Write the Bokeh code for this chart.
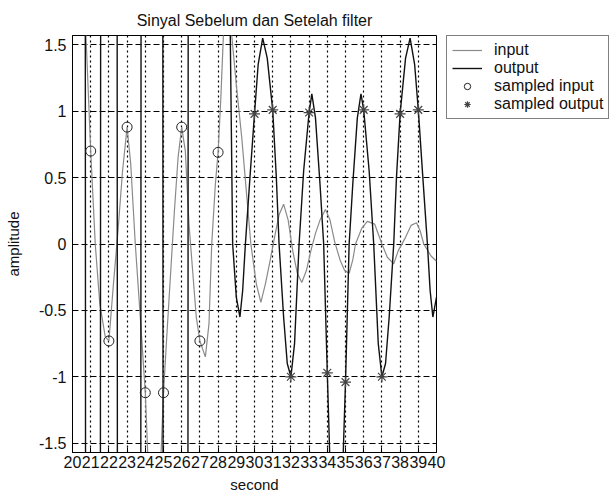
from bokeh.plotting import figure
from bokeh.layouts import row
from bokeh.models import FixedTicker, CustomJSTickFormatter, Legend, LegendItem
from bokeh.embed import file_html
from bokeh.resources import INLINE

# ---- data ----
in_t = [20.0, 20.4, 20.7, 21.0, 21.25, 21.5, 21.8, 22.0, 22.25, 22.5, 22.75, 23.0, 23.2, 23.45, 23.7,
        24.0, 24.2, 24.5, 24.8, 25.0, 25.2, 25.4, 25.6, 25.8, 26.0, 26.2, 26.4, 26.6, 26.8, 27.0,
        27.3, 27.5, 27.65, 27.85, 28.0, 28.15, 28.3, 28.55, 28.75, 29.0, 29.3, 29.55, 29.8, 30.1,
        30.35, 30.6, 30.85, 31.1, 31.35, 31.6, 31.85, 32.1, 32.35, 32.6, 32.85, 33.1, 33.35, 33.6,
        33.9, 34.15, 34.4, 34.7, 34.95, 35.2, 35.4, 35.55, 35.9, 36.2, 36.6, 37.0, 37.3, 37.65,
        37.9, 38.3, 38.6, 38.9, 39.1, 39.3, 39.7, 40.0]
in_v = [2.5, 2.6, 1.7, 0.70, 0.0, -0.45, -0.7, -0.73, -0.3, 0.1, 0.55, 0.88, 0.6, 0.0, -0.5,
        -1.12, -1.8, -2.4, -1.8, -1.12, -0.65, -0.2, 0.25, 0.65, 0.88, 0.7, 0.15, -0.2, -0.55, -0.73,
        -0.85, -0.6, 0.0, 0.45, 0.69, 1.1, 1.6, 2.4, 1.57, 1.2, 0.8, 0.4, 0.0, -0.3,
        -0.44, -0.3, -0.13, 0.05, 0.22, 0.3, 0.18, -0.05, -0.22, -0.29, -0.2, -0.05, 0.08, 0.18,
        0.26, 0.18, 0.02, -0.12, -0.2, -0.22, -0.12, 0.0, 0.12, 0.17, 0.15, 0.0, -0.1, -0.15,
        -0.05, 0.05, 0.14, 0.16, 0.1, 0.0, -0.09, -0.13]

out_t = [20.0, 20.68, 20.74, 21.51, 21.57, 22.43, 22.49, 23.73, 23.79, 24.94, 25.00, 26.32, 26.38,
         28.55, 28.8, 29.0, 29.2, 29.35, 29.5, 29.75, 30.0, 30.2, 30.45, 30.7, 31.0, 31.2, 31.35,
         31.6, 31.8, 32.0, 32.2, 32.45, 32.7, 33.0, 33.15, 33.35, 33.6, 33.8, 34.0, 34.2, 34.5,
         34.8, 35.0, 35.2, 35.4, 35.65, 35.85, 36.0, 36.3, 36.55, 36.8, 37.0, 37.2, 37.4, 37.65,
         37.8, 38.0, 38.3, 38.55, 38.8, 39.0, 39.25, 39.5, 39.65, 39.8, 40.0]
out_v = [8, 8, -8, -8, 8, 8, -8, -8, 8, 8, -8, -8, 8,
         3.0, 0.0, -0.4, -0.55, -0.35, 0.0, 0.5, 0.98, 1.35, 1.55, 1.4, 1.01, 0.5, 0.0,
         -0.55, -0.9, -1.0, -0.75, 0.0, 0.55, 0.99, 1.13, 0.95, 0.45, 0.0, -0.97, -1.9, -2.5,
         -1.9, -1.04, 0.0, 0.45, 0.95, 1.13, 1.01, 0.55, 0.0, -0.75, -1.0, -0.9, -0.55, 0.0,
         0.5, 0.98, 1.4, 1.55, 1.35, 1.01, 0.5, 0.0, -0.35, -0.55, -0.4]

samp_in_t = [21, 22, 23, 24, 25, 26, 27, 28]
samp_in_v = [0.70, -0.73, 0.88, -1.12, -1.12, 0.88, -0.73, 0.69]

samp_out_t = [30, 31, 32, 33, 34, 35, 36, 37, 38, 39]
samp_out_v = [0.98, 1.01, -1.0, 0.99, -0.97, -1.04, 1.01, -1.0, 0.98, 1.01]

x_ticks = list(range(20, 41))
y_ticks = [-1.5, -1, -0.5, 0, 0.5, 1, 1.5]

title_text = "Sinyal Sebelum dan Setelah filter"
x_label = "second"
y_label = "amplitude"
legend_labels = ["input", "output", "sampled input", "sampled output"]

FONT = "Liberation Sans"
IN_STYLE = dict(line_color="#8a8a8a", line_width=1.2)
OUT_STYLE = dict(line_color="#111111", line_width=1.4)
SIN_STYLE = dict(marker="circle", size=10, fill_color=None, line_color="#222222", line_width=1)
SOUT_STYLE = dict(marker="asterisk", size=11, line_color="#444444", line_width=1.2)

p = figure(width=446, height=496, x_range=(20, 40), y_range=(-1.57, 1.57),
           output_backend="svg", toolbar_location=None,
           min_border_left=72, min_border_right=10, min_border_top=33, min_border_bottom=44,
           background_fill_color="white", border_fill_color="white")

p.title.text = title_text
p.title.align = "center"
p.title.text_font = FONT
p.title.text_font_size = "16px"
p.title.text_font_style = "normal"
p.title.text_color = "#111111"
p.title.standoff = 14

p.outline_line_color = "black"
p.outline_line_width = 1
p.outline_line_alpha = 1

for ax in (p.xaxis[0], p.yaxis[0]):
    ax.major_tick_in = 5
    ax.major_tick_out = 0
    ax.minor_tick_line_color = None
    ax.axis_line_color = "black"
    ax.major_tick_line_color = "black"
    ax.major_label_text_font = FONT
    ax.major_label_text_color = "#111111"
    ax.axis_label_text_font = FONT
    ax.axis_label_text_font_size = "15px"
    ax.axis_label_text_font_style = "normal"
    ax.axis_label_text_color = "#111111"

p.xaxis.major_label_text_font_size = "16px"
p.yaxis.major_label_text_font_size = "16px"
p.xaxis.ticker = FixedTicker(ticks=x_ticks)
p.yaxis.ticker = FixedTicker(ticks=y_ticks)
p.yaxis.formatter = CustomJSTickFormatter(code="return tick.toString();")
p.xaxis.major_label_standoff = 3
p.yaxis.major_label_standoff = 6
p.xaxis.axis_label = x_label
p.yaxis.axis_label = y_label
p.xaxis.axis_label_standoff = 5
p.yaxis.axis_label_standoff = 14

p.xgrid.ticker = FixedTicker(ticks=x_ticks)
p.ygrid.ticker = FixedTicker(ticks=y_ticks)
p.xgrid.grid_line_color = "black"
p.xgrid.grid_line_dash = "2 3"
p.xgrid.grid_line_width = 1.2
p.ygrid.grid_line_color = "black"
p.ygrid.grid_line_dash = "6 3"
p.ygrid.grid_line_width = 1

p.line(in_t, in_v, **IN_STYLE)
p.line(out_t, out_v, **OUT_STYLE)
p.scatter(samp_in_t, samp_in_v, **SIN_STYLE)
p.scatter(samp_out_t, samp_out_v, **SOUT_STYLE)

# legend panel (separate figure so the legend is not clipped by the plot frame);
# its proxy renderers hold points outside this panel's ranges, so only
# their legend swatches show
q = figure(width=170, height=496, x_range=(0, 1), y_range=(0, 1),
           output_backend="svg", toolbar_location=None,
           min_border_left=0, min_border_right=0, min_border_top=35, min_border_bottom=0,
           background_fill_color="white", border_fill_color="white")
q.axis.visible = False
q.grid.visible = False
q.outline_line_color = None
proxy_x = [-5, -4]
proxy_y = [-5, -4]
l_in = q.line(proxy_x, proxy_y, **IN_STYLE)
l_out = q.line(proxy_x, proxy_y, **OUT_STYLE)
l_sin = q.scatter(proxy_x, proxy_y, **SIN_STYLE)
l_sout = q.scatter(proxy_x, proxy_y, **SOUT_STYLE)

legend = Legend(items=[LegendItem(label=legend_labels[0], renderers=[l_in]),
                       LegendItem(label=legend_labels[1], renderers=[l_out]),
                       LegendItem(label=legend_labels[2], renderers=[l_sin]),
                       LegendItem(label=legend_labels[3], renderers=[l_sout])],
                location="top_left")
legend.border_line_color = "black"
legend.border_line_width = 1
legend.background_fill_color = "white"
legend.background_fill_alpha = 1
legend.label_text_font = FONT
legend.label_text_font_size = "16px"
legend.label_text_color = "#111111"
legend.glyph_width = 30
legend.glyph_height = 16
legend.label_height = 16
legend.label_standoff = 12
legend.spacing = 0
legend.padding = 5
legend.margin = 0
q.add_layout(legend, "center")

layout = row(p, q, spacing=0)
open("out.html", "w").write(file_html(layout, INLINE))
